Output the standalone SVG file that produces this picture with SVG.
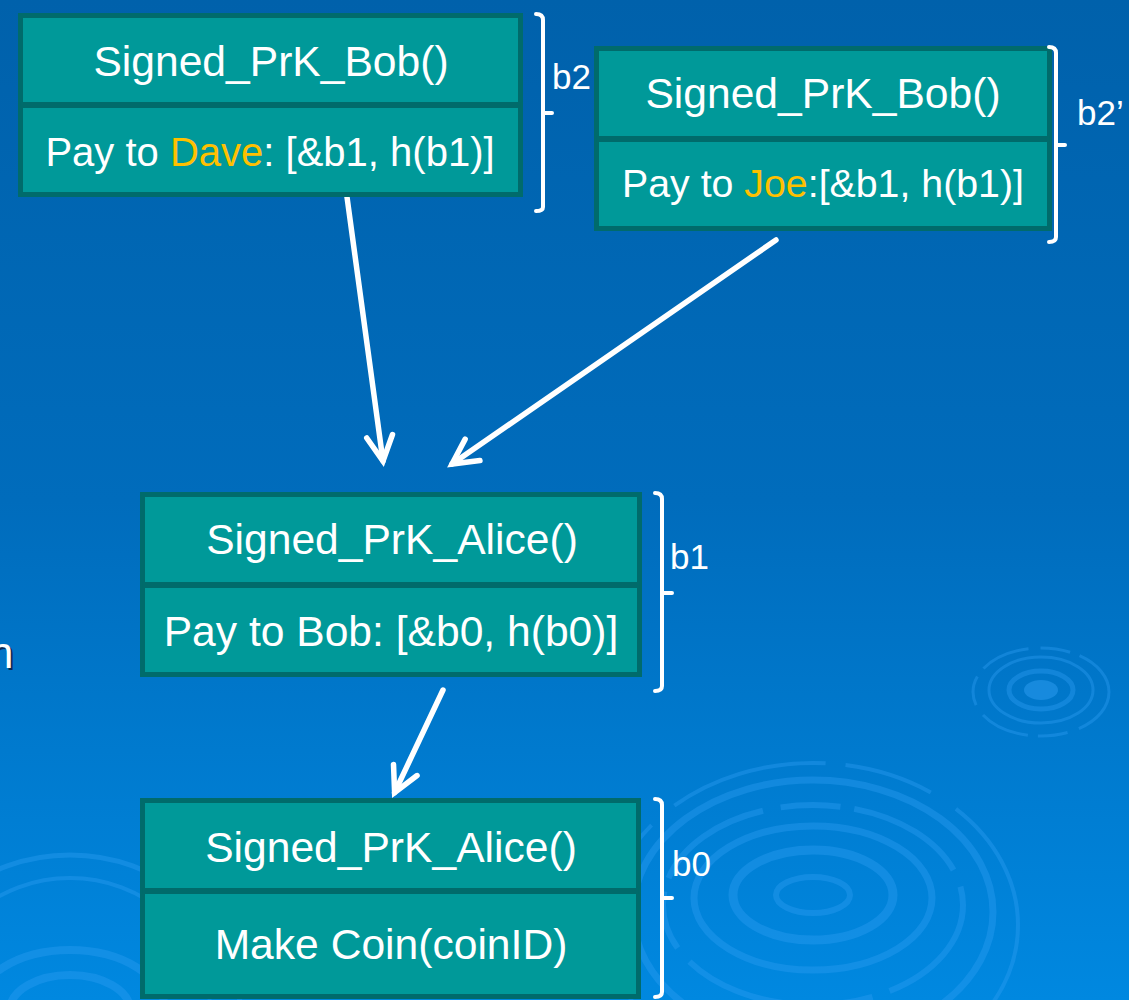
<svg xmlns="http://www.w3.org/2000/svg" width="1129" height="1000" viewBox="0 0 1129 1000">
<style>
.box{fill:#009999;stroke:#006B6B;stroke-width:5}
.div{stroke:#006B6B;stroke-width:6}
.t{font-family:"Liberation Sans",Arial,sans-serif;font-size:42.6px;fill:#fff;text-anchor:middle}
.t.s40{font-size:40px}
.t.s39{font-size:39.3px}
.hl{fill:#FFC000}
.lbl{font-family:"Liberation Sans",Arial,sans-serif;font-size:35px;fill:#fff}
.br{fill:none;stroke:#fff;stroke-width:4;stroke-linecap:round;stroke-linejoin:round}
.ar{fill:none;stroke:#fff;stroke-width:5.5;stroke-linecap:round}
.rip{fill:none;stroke:#2E9EF2;stroke-opacity:0.4}
</style>
<defs>
<linearGradient id="bg" x1="0" y1="0" x2="0" y2="1">
<stop offset="0" stop-color="#0061AB"/>
<stop offset="0.5" stop-color="#006CBC"/>
<stop offset="1" stop-color="#0088E0"/>
</linearGradient>
<marker id="chev" markerUnits="userSpaceOnUse" viewBox="-34 -20 44 40" refX="0" refY="0" markerWidth="44" markerHeight="40" orient="auto">
<path d="M-25,-13 L0,0 L-25,13" fill="none" stroke="#fff" stroke-width="5.5" stroke-linecap="round" stroke-linejoin="miter"/>
</marker>
</defs>
<rect x="0" y="0" width="1129" height="1000" fill="url(#bg)"/>
<g id="ripples">
<ellipse cx="813" cy="895" rx="37" ry="18" fill="#1E93EC" fill-opacity="0.5" class="rip" stroke-width="6"/>
<ellipse class="rip" cx="813" cy="895" rx="80" ry="45" stroke-width="9"/>
<ellipse class="rip" cx="813" cy="898" rx="119" ry="72" stroke-width="7"/>
<ellipse class="rip" cx="813" cy="905" rx="150" ry="100" stroke-width="6" stroke-dasharray="120 18 60 14"/>
<ellipse class="rip" cx="813" cy="912" rx="180" ry="132" stroke-width="7"/>
<ellipse class="rip" cx="813" cy="925" rx="205" ry="162" stroke-width="4" stroke-dasharray="90 30 160 20"/>
<ellipse cx="1041" cy="690" rx="17" ry="10" fill="#2E9EF2" fill-opacity="0.5"/>
<ellipse class="rip" cx="1041" cy="690" rx="32" ry="19" stroke-width="5"/>
<ellipse class="rip" cx="1041" cy="690" rx="52" ry="33" stroke-width="3"/>
<ellipse class="rip" cx="1041" cy="692" rx="68" ry="44" stroke-width="3" stroke-dasharray="50 12 30 10"/>
<ellipse class="rip" cx="70" cy="1010" rx="170" ry="155" stroke-width="5"/>
<ellipse class="rip" cx="70" cy="1010" rx="140" ry="132" stroke-width="4"/>
<ellipse class="rip" cx="70" cy="1010" rx="95" ry="60" stroke-width="8"/>
<ellipse class="rip" cx="70" cy="1010" rx="60" ry="35" stroke-width="8"/>
</g>
<text x="-9" y="670" font-family="Liberation Sans,Arial,sans-serif" font-size="44" fill="#0A2A55">n</text>
<text x="-11" y="668" font-family="Liberation Sans,Arial,sans-serif" font-size="44" fill="#fff">n</text>
<g id="connectors">
<line class="ar" x1="347" y1="197" x2="383" y2="461" marker-end="url(#chev)"/>
<line class="ar" x1="776" y1="240" x2="452" y2="464" marker-end="url(#chev)"/>
<line class="ar" x1="443" y1="690" x2="394.6" y2="792.6" marker-end="url(#chev)"/>
</g>
<g id="b2">
<rect class="box" x="20.5" y="15.5" width="500" height="179"/>
<line class="div" x1="20.5" y1="105" x2="520.5" y2="105"/>
<text class="t" x="271" y="76">Signed_PrK_Bob()</text>
<text class="t s40" x="270" y="166">Pay to <tspan class="hl">Dave</tspan>: [&amp;b1, h(b1)]</text>
<path class="br" d="M536,14 Q543,14 543,20 L543,207 Q543,211 536,211 M543,113 L552,113"/>
<text class="lbl" x="552" y="89">b2</text>
</g>
<g id="b2p">
<rect class="box" x="596.5" y="48.5" width="453" height="180"/>
<line class="div" x1="596.5" y1="139" x2="1049.5" y2="139"/>
<text class="t" x="823" y="108">Signed_PrK_Bob()</text>
<text class="t s39" x="823" y="197">Pay to <tspan class="hl">Joe</tspan>:[&amp;b1, h(b1)]</text>
<path class="br" d="M1049,47 Q1056,47 1056,53 L1056,237 Q1056,242 1049,242 M1056,145 L1065,145"/>
<text class="lbl" x="1077" y="125">b2’</text>
</g>
<g id="b1">
<rect class="box" x="142.5" y="494.5" width="497" height="180"/>
<line class="div" x1="142.5" y1="585" x2="639.5" y2="585"/>
<text class="t" x="392" y="554">Signed_PrK_Alice()</text>
<text class="t" x="391" y="646">Pay to Bob: [&amp;b0, h(b0)]</text>
<path class="br" d="M655,493 Q662,493 662,499 L662,686 Q662,691 655,691 M662,593 L672,593"/>
<text class="lbl" x="670" y="569">b1</text>
</g>
<g id="b0">
<rect class="box" x="142.5" y="800.5" width="496" height="196"/>
<line class="div" x1="142.5" y1="891" x2="638.5" y2="891"/>
<text class="t" x="391" y="862">Signed_PrK_Alice()</text>
<text class="t" x="391" y="959">Make Coin(coinID)</text>
<path class="br" d="M655,799 Q662,799 662,805 L662,992 Q662,997 655,997 M662,898 L672,898"/>
<text class="lbl" x="672" y="876">b0</text>
</g>
</svg>
